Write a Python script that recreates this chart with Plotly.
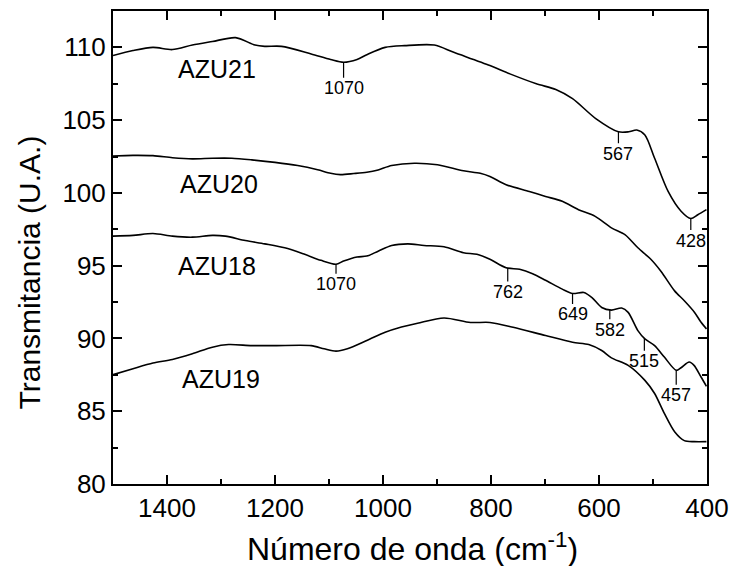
import numpy as np
import plotly.graph_objects as go

# ---------------- data ----------------
azu21_x = [1500, 1463, 1426, 1390, 1353, 1316, 1273, 1237, 1219, 1188, 1133, 1097, 1073, 1048, 1030,
           996, 960, 905, 869, 802, 765, 716, 680, 649, 606, 564, 545, 530, 515, 497, 472, 448, 430, 417, 401]
azu21_y = [109.44, 109.78, 110.0, 109.85, 110.16, 110.4, 110.67, 110.16, 110.07, 110.07, 109.55, 109.17, 108.98, 109.17, 109.5,
           110.0, 110.12, 110.16, 109.66, 108.75, 108.18, 107.5, 107.11, 106.48, 105.11, 104.2, 104.2, 104.32, 103.98, 102.38, 100.1, 98.74, 98.24, 98.5, 98.85]

azu20_x = [1500, 1463, 1426, 1390, 1353, 1316, 1280, 1243, 1200, 1158, 1121, 1097, 1079, 1054, 1030,
           1009, 984, 942, 899, 851, 820, 802, 772, 729, 699, 668, 638, 607, 577, 552, 528, 504, 485,
           460, 442, 423, 411, 401]
azu20_y = [102.54, 102.58, 102.56, 102.42, 102.34, 102.38, 102.38, 102.27, 102.1, 101.88, 101.59, 101.35, 101.26, 101.33, 101.42,
           101.58, 101.88, 102.04, 101.93, 101.52, 101.35, 101.13, 100.56, 100.1, 99.76, 99.42, 98.85, 98.39, 97.6, 97.14, 96.23, 95.44, 94.6,
           93.27, 92.59, 91.79, 91.11, 90.66]

azu18_x = [1500, 1463, 1426, 1390, 1353, 1316, 1292, 1255, 1219, 1182, 1145, 1115, 1087, 1073, 1048, 1030,
           1009, 984, 954, 924, 887, 851, 826, 802, 772, 747, 723, 699, 668, 649, 628, 613, 595, 577,
           558, 546, 528, 515, 497, 479, 457, 448, 433, 424, 411, 401]
azu18_y = [97.03, 97.08, 97.21, 97.03, 96.96, 97.08, 97.03, 96.73, 96.5, 96.23, 95.78, 95.37, 95.1, 95.32, 95.6, 95.66,
           96.0, 96.39, 96.5, 96.39, 96.3, 95.89, 95.78, 95.44, 94.86, 94.75, 94.45, 94.0, 93.39, 93.09, 93.16, 92.81, 92.13, 91.95,
           92.09, 91.79, 90.54, 89.97, 89.51, 88.72, 87.81, 87.99, 88.38, 88.15, 87.35, 86.71]

azu19_x = [1500, 1463, 1426, 1390, 1353, 1316, 1286, 1243, 1200, 1133, 1109, 1087, 1066, 1030,
           996, 972, 936, 887, 838, 802, 759, 699, 649, 619, 595, 577, 546, 515, 497, 479, 460, 442, 424, 401]
azu19_y = [87.51, 87.92, 88.31, 88.56, 88.95, 89.4, 89.58, 89.51, 89.51, 89.51, 89.29, 89.13, 89.29, 89.86,
           90.43, 90.72, 91.04, 91.41, 91.1, 91.1, 90.77, 90.2, 89.74, 89.58, 89.17, 88.67, 88.15, 87.12, 86.22, 84.85, 83.59, 82.98, 82.91, 82.91]

series_names = ["AZU21", "AZU20", "AZU18", "AZU19"]
series_x = [azu21_x, azu20_x, azu18_x, azu19_x]
series_y = [azu21_y, azu20_y, azu18_y, azu19_y]

label_x = [1307, 1304, 1307, 1300]
label_y = [108.5, 100.58, 94.98, 87.24]

peak_curve = ["AZU21", "AZU21", "AZU21", "AZU18", "AZU18", "AZU18", "AZU18", "AZU18", "AZU18"]
peak_pos = [1073, 564, 430, 1087, 769, 649, 580, 516, 457]
peak_text = ["1070", "567", "428", "1070", "762", "649", "582", "515", "457"]
peak_off = [26, 22, 22, 20, 24, 21, 20, 23, 25]

x_title = "Número de onda (cm<sup>-1</sup>)"
y_title = "Transmitancia (U.A.)"

FONT = "Liberation Sans"

fig = go.Figure()
for name, xs, ys in zip(series_names, series_x, series_y):
    fig.add_trace(go.Scatter(x=xs, y=ys, mode="lines", name=name,
                             line=dict(color="black", width=1.6, shape="spline", smoothing=0.8),
                             showlegend=False, hoverinfo="skip"))

# curve labels
for name, lx, ly in zip(series_names, label_x, label_y):
    fig.add_annotation(x=lx, y=ly, text=name, showarrow=False,
                       font=dict(family=FONT, size=25, color="black"))

# peak markers
lookup = dict(zip(series_names, zip(series_x, series_y)))
for cname, pos, txt, off in zip(peak_curve, peak_pos, peak_text, peak_off):
    xs, ys = lookup[cname]
    yv = float(np.interp(pos, xs[::-1], ys[::-1]))
    fig.add_annotation(x=pos, y=yv, text=txt, showarrow=True, arrowhead=0, arrowwidth=1.2,
                       arrowcolor="black", ax=0, ay=off, standoff=0, borderpad=0,
                       font=dict(family=FONT, size=18, color="black"))

# axis titles
fig.add_annotation(xref="paper", yref="paper", x=0.5, y=0, xshift=2, yshift=-63,
                   text=x_title, showarrow=False, yanchor="middle",
                   font=dict(family=FONT, size=32, color="black"))
fig.add_annotation(xref="paper", yref="paper", x=0, y=0.5, xshift=-84, yshift=-25,
                   text=y_title, showarrow=False, textangle=-90, xanchor="center",
                   font=dict(family=FONT, size=30, color="black"))

axis_common = dict(showline=True, linecolor="black", linewidth=2, mirror="ticks",
                   ticks="inside", ticklen=9, tickwidth=1.5, tickcolor="black",
                   showgrid=False, zeroline=False,
                   tickfont=dict(family=FONT, size=26, color="black"))

fig.update_xaxes(range=[1500, 400], tick0=0, dtick=200,
                 minor=dict(ticks="inside", ticklen=5, dtick=100, tick0=0, tickcolor="black", tickwidth=1.5),
                 **axis_common)
fig.update_yaxes(range=[80, 112.5], tick0=0, dtick=5,
                 minor=dict(ticks="inside", ticklen=5, dtick=2.5, tick0=0, tickcolor="black", tickwidth=1.5),
                 **axis_common)

fig.update_layout(width=738, height=566, margin=dict(l=113, r=24, t=9, b=82),
                  paper_bgcolor="white", plot_bgcolor="white",
                  font=dict(family=FONT, color="black"))

fig.write_html("out.html")
